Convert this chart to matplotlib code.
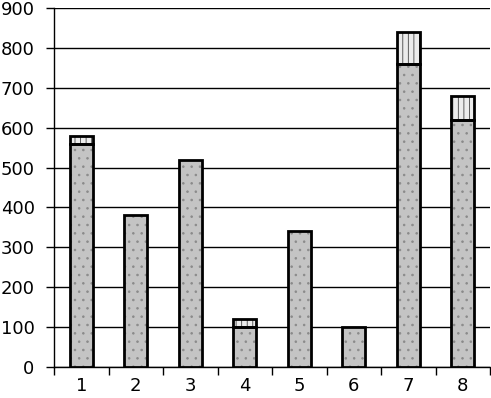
import matplotlib
matplotlib.use("Agg")
import matplotlib.pyplot as plt

categories = [1, 2, 3, 4, 5, 6, 7, 8]
base_values = [560, 380, 520, 100, 340, 100, 760, 620]
top_values = [20, 0, 0, 20, 0, 0, 80, 60]

plt.rcParams["hatch.linewidth"] = 0.6

fig = plt.figure(figsize=(4.91, 3.98), dpi=100)
ax = fig.add_axes([0.110, 0.078, 0.888, 0.902])

w = 0.42
# hatched fills first, drawn with gray hatch lines
ax.bar(categories, base_values, width=w, color="#c4c4c4", edgecolor="#8a8a8a",
       hatch="..", linewidth=0, zorder=3)
ax.bar(categories, top_values, width=w, bottom=base_values, color="#ececec",
       edgecolor="#444444", hatch="|||", linewidth=0, zorder=3)
# black outlines
ax.bar(categories, base_values, width=w, fill=False, edgecolor="black",
       linewidth=2.0, zorder=4)
tops = [t if t > 0 else float("nan") for t in top_values]
ax.bar(categories, tops, width=w, bottom=base_values, fill=False,
       edgecolor="black", linewidth=2.0, zorder=4)

ax.set_xlim(0.5, 8.5)
ax.set_ylim(0, 900)
ax.set_yticks(range(0, 1000, 100))
ax.grid(axis="y", color="black", linewidth=1.0, zorder=1)

ax.set_xticks(categories)
ax.set_xticks([i + 0.5 for i in range(0, 9)], minor=True)
ax.tick_params(axis="x", which="major", length=0, pad=7, labelsize=13)
ax.tick_params(axis="x", which="minor", length=6, width=1, direction="out")
ax.tick_params(axis="y", length=6, width=1, direction="out", labelsize=13, pad=8)

for s in ["top", "right"]:
    ax.spines[s].set_visible(False)
ax.spines["left"].set_linewidth(1.0)
ax.spines["bottom"].set_linewidth(1.0)

fig.savefig("out.png", dpi=100)
